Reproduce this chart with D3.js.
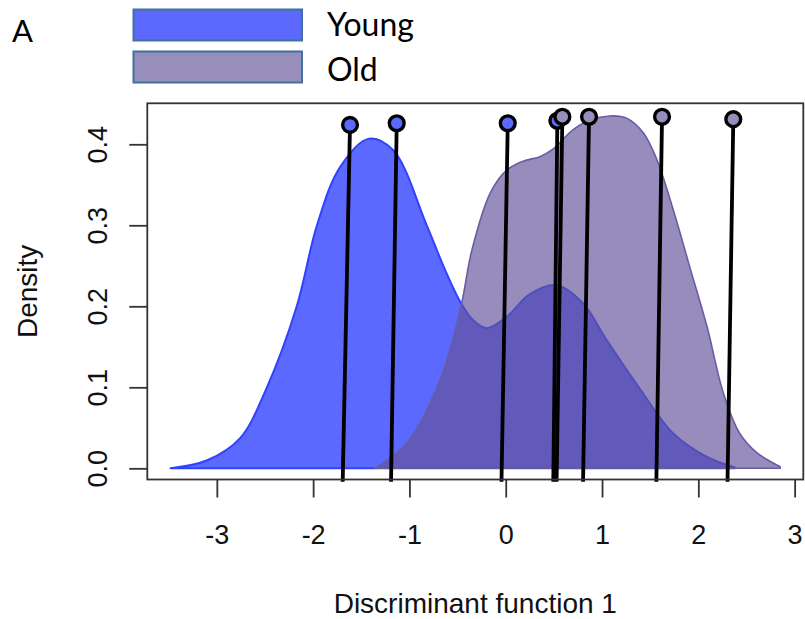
<!DOCTYPE html>
<html>
<head>
<meta charset="utf-8">
<script src="https://cdn.jsdelivr.net/npm/d3@7"></script>
<style>
  html, body { margin: 0; padding: 0; background: #fff; }
</style>
</head>
<body>
<svg id="chart"></svg>
<script>
// groups shown in the legend
const categories = ['Young', 'Old'];

// kernel density outlines, [x, density]
const youngDensity = [
    [-3.48, 0.000], [-3.10, 0.010], [-2.76, 0.037], [-2.48, 0.100], [-2.17, 0.200],
    [-1.96, 0.300], [-1.72, 0.372], [-1.42, 0.407], [-1.17, 0.393], [-0.82, 0.300],
    [-0.63, 0.245], [-0.47, 0.205], [-0.34, 0.183], [-0.20, 0.173], [0.01, 0.187],
    [0.25, 0.215], [0.53, 0.226], [0.80, 0.204], [1.05, 0.158], [1.40, 0.097],
    [1.74, 0.043], [2.09, 0.014], [2.38, 0.001]
];
const oldDensity = [
    [-1.36, 0.000], [-1.03, 0.031], [-0.68, 0.110], [-0.47, 0.197], [-0.35, 0.270],
    [-0.16, 0.340], [0.01, 0.368], [0.18, 0.379], [0.36, 0.385], [0.49, 0.394],
    [0.70, 0.418], [0.875, 0.430], [1.08, 0.435], [1.26, 0.432], [1.43, 0.414],
    [1.57, 0.381], [1.74, 0.319], [1.91, 0.249], [2.09, 0.175], [2.26, 0.093],
    [2.43, 0.043], [2.61, 0.019], [2.85, 0.002]
];

// individual scores drawn as pins (head at top, foot below the axis)
const pinGroup = ['Young', 'Young', 'Young', 'Young', 'Old', 'Old', 'Old', 'Old'];
const pinHeadX = [-1.617, -1.132, 0.021, 0.536, 0.588, 0.865, 1.623, 2.363];
const pinHeadY = [0.424, 0.426, 0.426, 0.429, 0.434, 0.434, 0.434, 0.431];
const pinFootX = [-1.693, -1.191, -0.044, 0.494, 0.528, 0.803, 1.564, 2.303];
const pinFootY = -0.0165;

const xTicks = [-3, -2, -1, 0, 1, 2, 3];
const yTicks = [0.0, 0.1, 0.2, 0.3, 0.4];

class DensityPlot {
    constructor(config) {
        this.config = {
            parent: config.parent,
            width: config.width || 805,
            height: config.height || 619
        };
        this.colors = {
            Young: { fill: '#5b69ff', stroke: '#2f43ff' },
            Old: { fill: 'rgba(100, 84, 153, 0.67)', stroke: '#675da3', solid: '#978ebb' }
        };
        this.init();
    }

    init() {
        let self = this;
        const W = self.config.width, H = self.config.height;

        self.svg = d3.select(self.config.parent)
            .attr('width', W)
            .attr('height', H)
            .style('display', 'block')
            .style('background', '#fff');

        // plot region (R style box)
        self.box = { left: 147.3, right: 803.3, top: 103.3, bottom: 479.5 };

        self.x = d3.scaleLinear()
            .domain([-3.722, 3.090])
            .range([self.box.left, self.box.right]);

        self.y = d3.scaleLinear()
            .domain([-0.0138, 0.4506])
            .range([self.box.bottom, self.box.top]);

        this.drawDensities();
        this.drawPins();
        this.drawAxes();
        this.drawLegend();
    }

    drawDensities() {
        let self = this;
        const area = d3.area()
            .x(d => self.x(d[0]))
            .y0(self.y(0))
            .y1(d => self.y(d[1]))
            .curve(d3.curveCatmullRom.alpha(0.5));

        const layer = self.svg.append('g');

        [['Young', youngDensity], ['Old', oldDensity]].forEach(([name, pts]) => {
            layer.append('path')
                .datum(pts)
                .attr('d', area)
                .attr('fill', self.colors[name].fill)
                .attr('stroke', self.colors[name].stroke)
                .attr('stroke-width', name === 'Young' ? 2 : 1.6)
                .attr('stroke-linejoin', 'round');
        });
    }

    drawPins() {
        let self = this;
        const pins = pinGroup.map((g, i) => ({
            group: g, hx: pinHeadX[i], hy: pinHeadY[i], fx: pinFootX[i]
        }));

        const layer = self.svg.append('g');

        pins.forEach(p => {
            const g = layer.append('g');
            g.append('line')
                .attr('x1', self.x(p.fx))
                .attr('y1', self.y(pinFootY))
                .attr('x2', self.x(p.hx))
                .attr('y2', self.y(p.hy))
                .attr('stroke', '#000')
                .attr('stroke-width', 3.8);
            g.append('circle')
                .attr('cx', self.x(p.hx))
                .attr('cy', self.y(p.hy))
                .attr('r', 7.4)
                .attr('fill', p.group === 'Young' ? self.colors.Young.fill : self.colors.Old.solid)
                .attr('stroke', '#000')
                .attr('stroke-width', 3.4);
        });
    }

    drawAxes() {
        let self = this;
        const b = self.box;
        const axisFont = '"Liberation Sans", Arial, sans-serif';

        // box
        self.svg.append('rect')
            .attr('x', b.left)
            .attr('y', b.top)
            .attr('width', b.right - b.left)
            .attr('height', b.bottom - b.top)
            .attr('fill', 'none')
            .attr('stroke', '#333')
            .attr('stroke-width', 1.8);

        // x axis
        const xAxis = self.svg.append('g')
            .attr('transform', `translate(0, ${b.bottom})`)
            .call(d3.axisBottom(self.x).tickValues(xTicks).tickFormat(d3.format('d')).tickSize(18).tickSizeOuter(0));
        xAxis.select('.domain').remove();
        xAxis.selectAll('line').attr('stroke', '#333').attr('stroke-width', 1.8);
        xAxis.selectAll('text')
            .attr('y', 64.5)
            .attr('dy', null)
            .attr('fill', '#111')
            .style('font-family', axisFont)
            .style('font-size', '27px')
            .text(d => d < 0 ? '-' + Math.abs(d) : d);

        // y axis, labels turned parallel to the axis
        const yAxis = self.svg.append('g')
            .attr('transform', `translate(${b.left}, 0)`)
            .call(d3.axisLeft(self.y).tickValues(yTicks).tickFormat(d3.format('.1f')).tickSize(18).tickSizeOuter(0));
        yAxis.select('.domain').remove();
        yAxis.selectAll('line').attr('stroke', '#333').attr('stroke-width', 1.8);
        yAxis.selectAll('text')
            .attr('x', 0)
            .attr('y', -40.5)
            .attr('dy', null)
            .attr('transform', 'rotate(-90)')
            .attr('text-anchor', 'middle')
            .attr('fill', '#111')
            .style('font-family', axisFont)
            .style('font-size', '27px');

        // axis titles
        self.svg.append('text')
            .attr('x', (b.left + b.right) / 2)
            .attr('y', 613)
            .attr('text-anchor', 'middle')
            .attr('fill', '#111')
            .style('font-family', axisFont)
            .style('font-size', '28px')
            .text('Discriminant function 1');

        self.svg.append('text')
            .attr('transform', `translate(37, ${(b.top + b.bottom) / 2}) rotate(-90)`)
            .attr('text-anchor', 'middle')
            .attr('fill', '#111')
            .style('font-family', axisFont)
            .style('font-size', '28px')
            .text('Density');
    }

    drawLegend() {
        let self = this;
        const legendFont = 'Lato, "Open Sans", sans-serif';

        // panel letter
        self.svg.append('text')
            .attr('x', 12)
            .attr('y', 42)
            .attr('fill', '#000')
            .style('font-family', legendFont)
            .style('font-size', '31px')
            .text('A');

        const legend = self.svg.append('g');
        categories.forEach((c, i) => {
            legend.append('rect')
                .attr('x', 133.5)
                .attr('y', 9.5 + i * 42)
                .attr('width', 168.5)
                .attr('height', 31)
                .attr('fill', c === 'Young' ? self.colors.Young.fill : self.colors.Old.solid)
                .attr('stroke', '#41719c')
                .attr('stroke-width', 2);

            legend.append('text')
                .attr('x', 327)
                .attr('y', 36 + i * 44.5)
                .attr('fill', '#000')
                .style('font-family', legendFont)
                .style('font-size', '32px')
                .text(c);
        });
    }
}

new DensityPlot({ parent: '#chart', width: 805, height: 619 });
</script>
</body>
</html>
